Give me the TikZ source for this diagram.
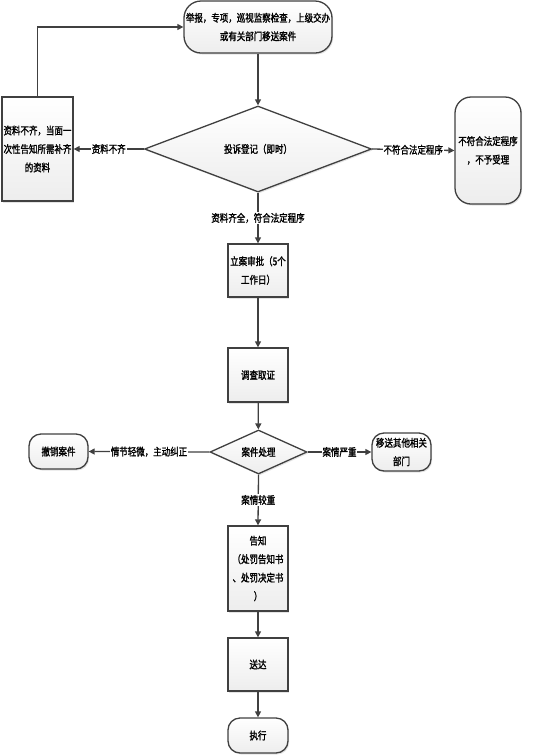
\documentclass[tikz,border=0pt]{standalone}
\usepackage{fontspec}
\setmainfont{Noto Sans CJK SC}
\newfontfamily\cjkfont{Noto Sans CJK SC}[FakeStretch=0.8, FakeBold=1.5]
\usetikzlibrary{shapes.geometric,arrows.meta,shadows}
\definecolor{linec}{HTML}{404040}
\tikzset{
  base/.style={draw=linec, line width=1.3pt, top color=white, bottom color=gray!14,
    inner sep=0pt, align=center, font=\cjkfont\fontsize{10.6}{18.5}\selectfont,
    drop shadow={shadow xshift=1.2pt, shadow yshift=-1.5pt, fill=gray!35, opacity=0.6}},
  procbox/.style={base, rectangle},
  termbox/.style={base, rectangle, rounded corners=#1},
  decbox/.style={base, diamond},
  arr/.style={draw=linec, line width=1.3pt, -{Triangle[length=6pt,width=6pt]}},
  lbl/.style={fill=white, inner sep=1pt, font=\cjkfont\fontsize{10.6}{12}\selectfont, text=black}
}
\begin{document}
\begin{tikzpicture}[x=1pt,y=-1pt]
\useasboundingbox (0,0) rectangle (554,756);
\node[termbox=17pt, minimum width=148pt, minimum height=52pt] (top) at (258,27)
  {举报，专项，巡视监察检查，上级交办\\或有关部门移送案件};
\node[procbox, minimum width=71pt, minimum height=104pt] (left) at (37.5,149)
  {资料不齐，当面一\\次性告知所需补齐\\的资料};
\node[decbox, minimum width=227pt, minimum height=86pt] (d1) at (258,149) {投诉登记（即时）};
\node[termbox=16pt, minimum width=66pt, minimum height=107pt] (right) at (488,150.5)
  {不符合法定程序\\，不予受理};
\node[procbox, minimum width=60pt, minimum height=53pt] (lian) at (258,270.5)
  {立案审批（5个\\工作日）};
\node[procbox, minimum width=60pt, minimum height=54pt] (diaocha) at (258,375) {调查取证};
\node[decbox, minimum width=97pt, minimum height=44pt] (d2) at (258.5,452) {案件处理};
\node[termbox=12pt, minimum width=59pt, minimum height=35pt] (chexiao) at (58.5,451.5) {撤销案件};
\node[termbox=12pt, minimum width=59pt, minimum height=38pt] (yisong) at (401.5,452)
  {移送其他相关\\部门};
\node[procbox, minimum width=60pt, minimum height=85pt] (gaozhi) at (258,568.5)
  {告知\\（处罚告知书\\、处罚决定书\\）};
\node[procbox, minimum width=60pt, minimum height=53pt] (songda) at (258,664.5) {送达};
\node[termbox=12pt, minimum width=60pt, minimum height=35pt] (zhixing) at (258,735.5) {执行};

\draw[arr] (top) -- (d1);
\draw[arr] (left.north) |- (top.west);
\draw[arr] (d1.west) -- node[lbl] {资料不齐} (left.east);
\draw[arr] (d1.east) -- node[lbl] {不符合法定程序} (right.west);
\draw[arr] (d1.south) -- node[lbl] {资料齐全，符合法定程序} (lian.north);
\draw[arr] (lian) -- (diaocha);
\draw[arr] (diaocha) -- (d2);
\draw[arr] (d2.west) -- node[lbl] {情节轻微，主动纠正} (chexiao.east);
\draw[arr] (d2.east) -- node[lbl] {案情严重} (yisong.west);
\draw[arr] (d2.south) -- node[lbl] {案情较重} (gaozhi.north);
\draw[arr] (gaozhi) -- (songda);
\draw[arr] (songda) -- (zhixing);
\end{tikzpicture}
\end{document}
